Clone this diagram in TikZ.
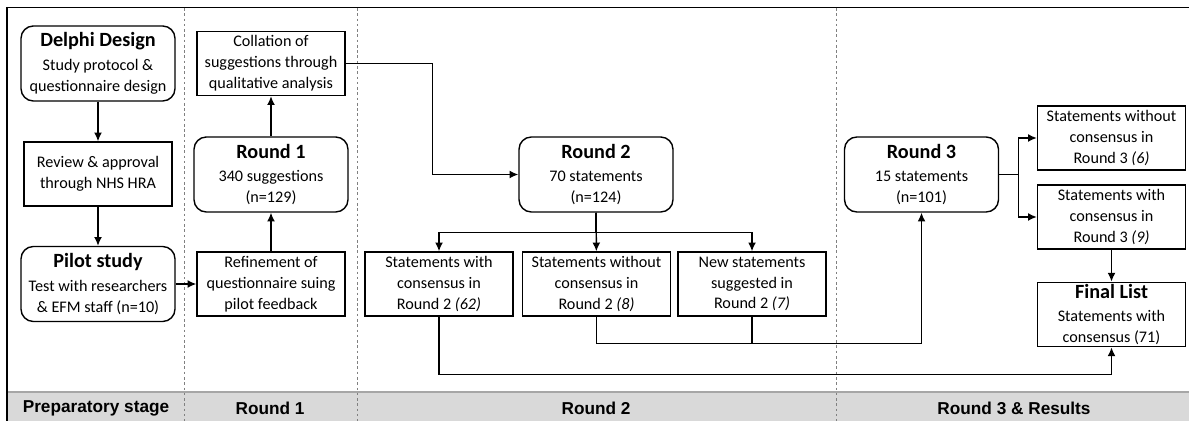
\documentclass[tikz,border=0pt]{standalone}
\usepackage{fontspec}
\setmainfont{Carlito}
\newfontfamily\bandfont{Liberation Sans}
\usepackage{tikz}
\usetikzlibrary{arrows.meta,positioning}

\definecolor{bandgray}{HTML}{D9D9D9}
\definecolor{bandline}{HTML}{A6A6A6}
\newcommand{\boxtitle}[1]{{\fontsize{11.5}{13}\selectfont\bfseries #1}}

\begin{document}
\begin{tikzpicture}[
    x=0.02cm,
    y=-0.02cm,
    >={Latex[length=5pt,width=4.5pt]},
    line width=0.8pt,
    every node/.style={font=\fontsize{9.2}{11.9}\selectfont, align=center},
    roundbox/.style={draw, rounded corners=7pt, minimum width=3.08cm,
        minimum height=1.5cm, inner sep=1pt},
    plainbox/.style={draw, minimum width=2.96cm, minimum height=1.28cm,
        inner sep=1pt},
    bandlabel/.style={font=\bandfont\bfseries\fontsize{9.8}{11}\selectfont},
    stagesep/.style={gray, line width=0.5pt, dash pattern=on 1.5pt off 1.5pt}
]
\useasboundingbox (0,0) rectangle (1189,421);

% Stage band
\fill[bandgray] (7,392) rectangle (1189,421);
\draw[bandline] (7,392) -- (1189,392);
\draw[line width=1.1pt] (7,7.5) -- (1189,7.5);
\draw[line width=1.1pt] (7,7) -- (7,421);
\foreach \sx in {184,357,836}
    \draw[stagesep] (\sx,8) -- (\sx,421);

\node[bandlabel] (bandprep) at (96,408) {Preparatory stage};
\node[bandlabel] (bandr1) at (270,408) {Round 1};
\node[bandlabel] (bandr2) at (596,408) {Round 2};
\node[bandlabel] (bandr3) at (1014,408) {Round 3 \& Results};

% Preparatory stage
\node[roundbox] (delphi) at (98,63.5)
    {\boxtitle{Delphi Design}\\[1.5pt] Study protocol \&\\ questionnaire design};
\node[plainbox] (review) at (98,174)
    {Review \& approval\\ through NHS HRA};
\node[roundbox] (pilot) at (98,284)
    {\boxtitle{Pilot study}\\[1.5pt] Test with researchers\\ \& EFM staff (n=10)};

% Round 1
\node[plainbox] (collation) at (271,63.5)
    {Collation of\\ suggestions through\\ qualitative analysis};
\node[roundbox] (round1) at (271,174.5)
    {\boxtitle{Round 1}\\[1.5pt] 340 suggestions\\ (n=129)};
\node[plainbox] (refine) at (271,284)
    {Refinement of\\ questionnaire suing\\ pilot feedback};

% Round 2
\node[roundbox] (round2) at (596,174.5)
    {\boxtitle{Round 2}\\[1.5pt] 70 statements\\ (n=124)};
\node[plainbox] (withR2) at (439,284)
    {Statements with\\ consensus in\\ Round 2 \textit{(62)}};
\node[plainbox] (withoutR2) at (596.5,284)
    {Statements without\\ consensus in\\ Round 2 \textit{(8)}};
\node[plainbox] (newR2) at (752,284)
    {New statements\\ suggested in\\ Round 2 \textit{(7)}};

% Round 3 and results
\node[roundbox] (round3) at (921.5,174.5)
    {\boxtitle{Round 3}\\[1.5pt] 15 statements\\ (n=101)};
\node[plainbox] (withoutR3) at (1111.5,138)
    {Statements without\\ consensus in\\ Round 3 \textit{(6)}};
\node[plainbox] (withR3) at (1111.5,217)
    {Statements with\\ consensus in\\ Round 3 \textit{(9)}};
\node[plainbox] (final) at (1111.5,314.5)
    {\boxtitle{Final List}\\[1.5pt] Statements with\\ consensus (71)};

% Connectors
\draw[->] (delphi) -- (review);
\draw[->] (review) -- (pilot);
\draw[->] (pilot) -- (refine);
\draw[->] (refine) -- (round1);
\draw[->] (round1) -- (collation);
\draw[->] (collation.east) -- ++(87,0) |- (round2.west);

\draw[->] (round2) -- (withoutR2);
\draw[->] (round2.south) -- ++(0,20) -| (withR2.north);
\draw[->] (round2.south) -- ++(0,20) -| (newR2.north);

\draw[->] (withoutR2.south) -- ++(0,27) -| (round3.south);
\draw (newR2.south) -- ++(0,27);
\draw[->] (withR2.south) -- ++(0,58) -| (final.south);

\draw (round3.east) -- ++(19,0) coordinate (r3split);
\draw[->] (r3split) |- (withoutR3.west);
\draw[->] (r3split) |- (withR3.west);
\draw[->] (withR3) -- (final);

\end{tikzpicture}
\end{document}
